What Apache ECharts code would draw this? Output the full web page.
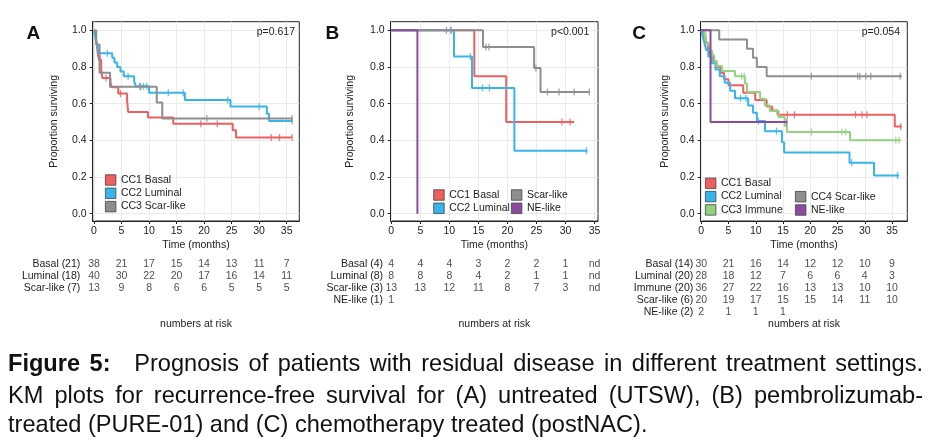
<!DOCTYPE html>
<html>
<head>
<meta charset="UTF-8">
<title>Figure 5 - KM plots</title>
<script type="text/javascript" src="https://cdn.jsdelivr.net/npm/echarts@6/dist/echarts.min.js"></script>
<style>body{margin:0;background:#fff;}</style>
</head>
<body>
<div id="main" style="width:936px;height:444px;"></div>

<script type="text/javascript">
// ---- data ----
var xTicks = [0, 5, 10, 15, 20, 25, 30, 35];
var yTicks = [0, 0.2, 0.4, 0.6, 0.8, 1.0];
var riskTimes = [0, 5, 10, 15, 20, 25, 30, 35];

// A: untreated (UTSW)
var basalA = [[0,1],[0.3,0.97],[0.5,0.92],[0.7,0.87],[0.9,0.84],[1.3,0.79],[1.5,0.74],[3.0,0.715],[3.2,0.69],[4.4,0.655],[6.0,0.62],[6.2,0.555],[9.8,0.525],[14.4,0.49],[25.2,0.455],[25.8,0.415],[36.0,0.415]];
var basalA_cens = [[1.1,0.84],[2.2,0.74],[4.8,0.655],[19.4,0.49],[22.4,0.49],[32.2,0.415],[33.7,0.415],[36.0,0.415]];
var luminalA = [[0,1],[0.3,0.95],[0.6,0.92],[0.8,0.875],[3.3,0.85],[3.7,0.825],[4.2,0.8],[4.8,0.775],[5.4,0.75],[7.3,0.72],[7.6,0.695],[10.0,0.66],[16.5,0.62],[24.8,0.585],[31.4,0.545],[31.8,0.505],[36.0,0.505]];
var luminalA_cens = [[2.4,0.875],[6.2,0.75],[8.3,0.695],[9.0,0.695],[9.6,0.695],[13.5,0.66],[16.2,0.66],[24.3,0.62],[30.0,0.585],[36.0,0.505]];
var scarA = [[0,1],[0.4,0.923],[1.0,0.769],[2.9,0.692],[11.4,0.606],[12.4,0.519],[36.0,0.519]];
var scarA_cens = [[8.5,0.692],[20.5,0.519],[36.0,0.519]];

// B: pembrolizumab (PURE-01)
var basalB = [[0,1],[14.3,0.75],[19.8,0.5],[31.5,0.5]];
var basalB_cens = [[29.4,0.5],[30.8,0.5]];
var luminalB = [[0,1],[10.8,0.857],[13.9,0.686],[21.2,0.343],[33.8,0.343]];
var luminalB_cens = [[10.3,1],[13.6,0.857],[15.7,0.686],[16.9,0.686],[33.6,0.343]];
var scarB = [[0,1],[15.8,0.909],[24.6,0.795],[25.7,0.663],[34.2,0.663]];
var scarB_cens = [[9.5,1],[10.3,1],[16.3,0.909],[16.8,0.909],[24.9,0.795],[26.9,0.663],[28.9,0.663],[31.5,0.663],[34.1,0.663]];
var neB = [[0,1],[4.5,0]];
var neB_cens = [];

// C: chemotherapy (postNAC)
var basalC = [[0,1],[0.4,0.967],[0.8,0.933],[1.2,0.9],[1.6,0.867],[2.2,0.833],[2.8,0.8],[3.5,0.767],[4.2,0.733],[5.0,0.7],[7.7,0.66],[9.9,0.62],[12.0,0.585],[13.0,0.563],[14.0,0.54],[35.5,0.475],[36.8,0.475]];
var basalC_cens = [[15.8,0.54],[17.1,0.54],[28.3,0.54],[29.5,0.54],[30.4,0.54],[36.6,0.475]];
var luminalC = [[0,1],[0.3,0.964],[0.6,0.929],[0.9,0.893],[1.3,0.857],[1.9,0.821],[2.6,0.786],[3.4,0.75],[4.3,0.714],[5.3,0.67],[6.2,0.63],[8.6,0.59],[9.5,0.55],[10.2,0.505],[11.7,0.45],[14.8,0.39],[15.2,0.333],[27.2,0.278],[31.7,0.208],[36.3,0.208]];
var luminalC_cens = [[7.2,0.63],[8.2,0.63],[10.5,0.505],[13.8,0.45],[27.6,0.278],[36.0,0.208]];
var immuneC = [[0,1],[0.6,0.972],[0.9,0.944],[1.2,0.917],[1.6,0.889],[2.0,0.861],[2.4,0.833],[2.8,0.806],[3.8,0.778],[6.2,0.75],[8.0,0.71],[8.4,0.664],[10.8,0.627],[11.7,0.59],[12.6,0.56],[14.2,0.527],[15.3,0.48],[15.7,0.445],[27.3,0.4],[36.6,0.4]];
var immuneC_cens = [[0.9,0.972],[7.4,0.75],[7.9,0.75],[20.2,0.445],[25.8,0.445],[26.5,0.445],[35.7,0.4],[36.3,0.4]];
var scarC = [[0,1],[3.3,0.95],[8.4,0.9],[9.5,0.85],[10.2,0.8],[12.0,0.75],[36.8,0.75]];
var scarC_cens = [[20.2,0.75],[28.7,0.75],[29.1,0.75],[30.2,0.75],[31.1,0.75],[36.5,0.75]];
var neC = [[0,1],[1.7,0.5],[15.8,0.5]];
var neC_cens = [[15.7,0.5]];

// numbers at risk
var riskA_labels = ['Basal (21)', 'Luminal (18)', 'Scar-like (7)'];
var riskA_basal = [38, 21, 17, 15, 14, 13, 11, 7];
var riskA_luminal = [40, 30, 22, 20, 17, 16, 14, 11];
var riskA_scar = [13, 9, 8, 6, 6, 5, 5, 5];

var riskB_labels = ['Basal (4)', 'Luminal (8)', 'Scar-like (3)', 'NE-like (1)'];
var riskB_basal = [4, 4, 4, 3, 2, 2, 1, 'nd'];
var riskB_luminal = [8, 8, 8, 4, 2, 1, 1, 'nd'];
var riskB_scar = [13, 13, 12, 11, 8, 7, 3, 'nd'];
var riskB_ne = [1];

var riskC_labels = ['Basal (14)', 'Luminal (20)', 'Immune (20)', 'Scar-like (6)', 'NE-like (2)'];
var riskC_basal = [30, 21, 16, 14, 12, 12, 10, 9];
var riskC_luminal = [28, 18, 12, 7, 6, 6, 4, 3];
var riskC_immune = [36, 27, 22, 16, 13, 13, 10, 10];
var riskC_scar = [20, 19, 17, 15, 15, 14, 11, 10];
var riskC_ne = [2, 1, 1, 1];

var pValues = ['p=0.617', 'p<0.001', 'p=0.054'];
var panelLetters = ['A', 'B', 'C'];

var captionBold = 'Figure 5:';
var captionLines = [
  'Prognosis of patients with residual disease in different treatment settings.',
  'KM plots for recurrence-free survival for (A) untreated (UTSW), (B) pembrolizumab-',
  'treated (PURE-01) and (C) chemotherapy treated (postNAC).'
];

// ---- colours ----
var cBasal = '#ef5f60', cLuminal = '#39b4ea', cScar = '#8e8e8e', cImmune = '#92d27e', cNE = '#8a4b9f';

// ---- layout (positions only) ----
var FONT = '"Liberation Sans", Arial, sans-serif';
var plotTop = 21.7, plotH = 199.3, yMin = -0.04, yMax = 1.047;
var riskTop = 258.5, riskH = 60;
var layout = [
  {left: 92.7,  width: 206.6, xmin: -0.24, xmax: 37.3, yNameGap: 33, riskMargin: 12.4, letterX: 33.4, pRight: 295},
  {left: 390.7, width: 207.3, xmin: -0.1,  xmax: 35.6, yNameGap: 35, riskMargin: 7.7,  letterX: 332.3, pRight: 589.3},
  {left: 700.7, width: 206.6, xmin: -0.1,  xmax: 37.8, yNameGap: 30, riskMargin: 7.4,  letterX: 639, pRight: 900}
];

var panels = [
  {curves: [
     {name: 'CC1 Basal', data: basalA, cens: basalA_cens, color: cBasal},
     {name: 'CC2 Luminal', data: luminalA, cens: luminalA_cens, color: cLuminal},
     {name: 'CC3 Scar-like', data: scarA, cens: scarA_cens, color: cScar}],
   riskLabels: riskA_labels, risk: [riskA_basal, riskA_luminal, riskA_scar]},
  {curves: [
     {name: 'CC1 Basal', data: basalB, cens: basalB_cens, color: cBasal},
     {name: 'CC2 Luminal', data: luminalB, cens: luminalB_cens, color: cLuminal},
     {name: 'Scar-like', data: scarB, cens: scarB_cens, color: cScar},
     {name: 'NE-like', data: neB, cens: neB_cens, color: cNE}],
   riskLabels: riskB_labels, risk: [riskB_basal, riskB_luminal, riskB_scar, riskB_ne]},
  {curves: [
     {name: 'CC1 Basal', data: basalC, cens: basalC_cens, color: cBasal},
     {name: 'CC2 Luminal', data: luminalC, cens: luminalC_cens, color: cLuminal},
     {name: 'CC3 Immune', data: immuneC, cens: immuneC_cens, color: cImmune},
     {name: 'CC4 Scar-like', data: scarC, cens: scarC_cens, color: cScar},
     {name: 'NE-like', data: neC, cens: neC_cens, color: cNE}],
   riskLabels: riskC_labels, risk: [riskC_basal, riskC_luminal, riskC_immune, riskC_scar, riskC_ne]}
];

function onTick(v, ticks) {
  for (var i = 0; i < ticks.length; i++) if (Math.abs(v - ticks[i]) < 1e-6) return true;
  return false;
}

var grids = [], xAxes = [], yAxes = [], series = [], graphics = [];
var axisText = {fontSize: 10.5, color: '#222', fontFamily: FONT};

// plot grids
layout.forEach(function (L, i) {
  grids.push({left: L.left, width: L.width, top: plotTop, height: plotH, show: true,
    borderColor: '#222', borderWidth: 1, backgroundColor: '#fff', containLabel: false, outerBoundsMode: 'none'});
  xAxes.push({gridIndex: i, type: 'value', min: L.xmin, max: L.xmax, splitNumber: 7,
    axisLine: {show: true, onZero: false, lineStyle: {color: '#222', width: 1}},
    axisTick: {show: true, length: 3, customValues: xTicks, lineStyle: {color: '#222'}},
    axisLabel: Object.assign({margin: 5, customValues: xTicks,
      formatter: function (v) { return onTick(v, xTicks) ? String(Math.round(v)) : ''; }}, axisText),
    splitLine: {show: true, lineStyle: {color: '#ebebeb', width: 1}},
    name: 'Time (months)', nameLocation: 'middle', nameGap: 19, nameTextStyle: axisText});
  yAxes.push({gridIndex: i, type: 'value', min: yMin, max: yMax, splitNumber: 5,
    axisLine: {show: true, onZero: false, lineStyle: {color: '#222', width: 1}},
    axisTick: {show: true, length: 3, customValues: yTicks, lineStyle: {color: '#222'}},
    axisLabel: Object.assign({margin: 6, customValues: yTicks,
      formatter: function (v) { return onTick(v, yTicks) ? v.toFixed(1) : ''; }}, axisText),
    splitLine: {show: true, lineStyle: {color: '#ebebeb', width: 1}},
    name: 'Proportion surviving', nameLocation: 'middle', nameGap: L.yNameGap, nameTextStyle: axisText});
});

// risk table grids
layout.forEach(function (L, i) {
  var labels = panels[i].riskLabels.slice();
  while (labels.length < 5) labels.push('');
  grids.push({left: L.left, width: L.width, top: riskTop, height: riskH, show: false,
    containLabel: false, outerBoundsMode: 'none'});
  xAxes.push({gridIndex: 3 + i, type: 'value', min: L.xmin, max: L.xmax,
    axisLine: {show: false}, axisTick: {show: false}, axisLabel: {show: false}, splitLine: {show: false},
    name: 'numbers at risk', nameLocation: 'middle', nameGap: 0, nameTextStyle: axisText});
  yAxes.push({gridIndex: 3 + i, type: 'category', data: labels, inverse: true,
    axisLine: {show: false}, axisTick: {show: false}, splitLine: {show: false},
    axisLabel: Object.assign({margin: L.riskMargin, interval: 0}, axisText)});
});

// curves
panels.forEach(function (P, i) {
  P.curves.forEach(function (c, k) {
    series.push({type: 'line', name: c.name, xAxisIndex: i, yAxisIndex: i, data: c.data,
      step: 'end', showSymbol: false, symbol: 'none', silent: true, z: 2 + k,
      lineStyle: {color: c.color, width: 2}, itemStyle: {color: c.color}});
    if (c.cens.length) {
      series.push({type: 'scatter', name: c.name + ' (censored)', xAxisIndex: i, yAxisIndex: i,
        data: c.cens, symbol: 'rect', symbolSize: [1.3, 7], silent: true, z: 2 + k,
        itemStyle: {color: c.color}});
    }
  });
  // risk numbers
  var pts = [];
  P.risk.forEach(function (row, r) {
    row.forEach(function (n, t) { pts.push([riskTimes[t], r, n]); });
  });
  series.push({type: 'scatter', name: 'risk' + i, xAxisIndex: 3 + i, yAxisIndex: 3 + i,
    data: pts, symbolSize: 1, silent: true, itemStyle: {color: 'rgba(0,0,0,0)'},
    label: {show: true, position: 'inside', formatter: function (p) { return p.value[2]; },
      fontSize: 10.5, color: '#222', fontFamily: FONT}});
});

// panel letters and p-values
layout.forEach(function (L, i) {
  graphics.push({type: 'text', x: L.letterX, y: 34, z: 100, silent: true,
    style: {text: panelLetters[i], fontSize: 19, fontWeight: 'bold', fontFamily: FONT,
      fill: '#111', align: 'center', verticalAlign: 'middle'}});
  graphics.push({type: 'text', x: L.pRight, y: 31.7, z: 100, silent: true,
    style: {text: pValues[i], fontSize: 10.5, fontFamily: FONT, fill: '#222',
      align: 'right', verticalAlign: 'middle'}});
});

// caption, justified like the source
(function () {
  var ctx = document.createElement('canvas').getContext('2d');
  function w(s, bold, fs) { ctx.font = (bold ? 'bold ' : '') + fs + 'px ' + FONT; return ctx.measureText(s).width; }
  var left = 8, right = 923, lastRight = 648;
  var fs = 19.5 * (lastRight - left) / w(captionLines[2], false, 19.5);
  var ys = [364.5, 396, 425.5];
  captionLines.forEach(function (line, li) {
    var words = line.split(' ').map(function (t) { return {t: t, b: false, g: 1}; });
    if (li === 0) {
      words = [{t: 'Figure', b: true, g: 1}, {t: '5:', b: true, g: 2.5}].concat(words);
    }
    var x = left, gap;
    if (li < 2) {
      var tot = 0, wsum = 0;
      words.forEach(function (o, k) { o.w = w(o.t, o.b, fs); tot += o.w; if (k < words.length - 1) wsum += o.g; });
      gap = (right - left - tot) / wsum;
    } else {
      words.forEach(function (o) { o.w = w(o.t, o.b, fs); });
      gap = w(' ', false, fs);
    }
    words.forEach(function (o) {
      graphics.push({type: 'text', x: x, y: ys[li], z: 100, silent: true,
        style: {text: o.t, fontSize: fs, fontWeight: o.b ? 'bold' : 'normal', fontFamily: FONT,
          fill: '#111', align: 'left', verticalAlign: 'middle'}});
      x += o.w + gap * o.g;
    });
  });
})();

var legendBase = {orient: 'vertical', padding: 0, itemWidth: 10.5, itemHeight: 10.5, itemGap: 0.3,
  icon: 'rect', selectedMode: false, itemStyle: {borderColor: '#444', borderWidth: 0.8},
  textStyle: {fontSize: 10.5, lineHeight: 13, color: '#222', fontFamily: FONT}};
function legendAt(names, left, top) {
  return Object.assign({}, legendBase, {data: names, left: left, top: top});
}

var mychart = echarts.init(document.getElementById('main'));
var option = {
  animation: false,
  backgroundColor: '#fff',
  textStyle: {fontFamily: FONT},
  grid: grids,
  xAxis: xAxes,
  yAxis: yAxes,
  legend: [
    legendAt(['CC1 Basal', 'CC2 Luminal', 'CC3 Scar-like'], 105, 173.5),
    legendAt(['CC1 Basal', 'CC2 Luminal'], 433.3, 188.5),
    legendAt(['Scar-like', 'NE-like'], 511, 188.5),
    legendAt(['CC1 Basal', 'CC2 Luminal', 'CC3 Immune'], 705, 176.8),
    legendAt(['CC4 Scar-like', 'NE-like'], 795, 190.2)
  ],
  graphic: graphics,
  series: series
};
mychart.setOption(option);
</script>
</body>
</html>
